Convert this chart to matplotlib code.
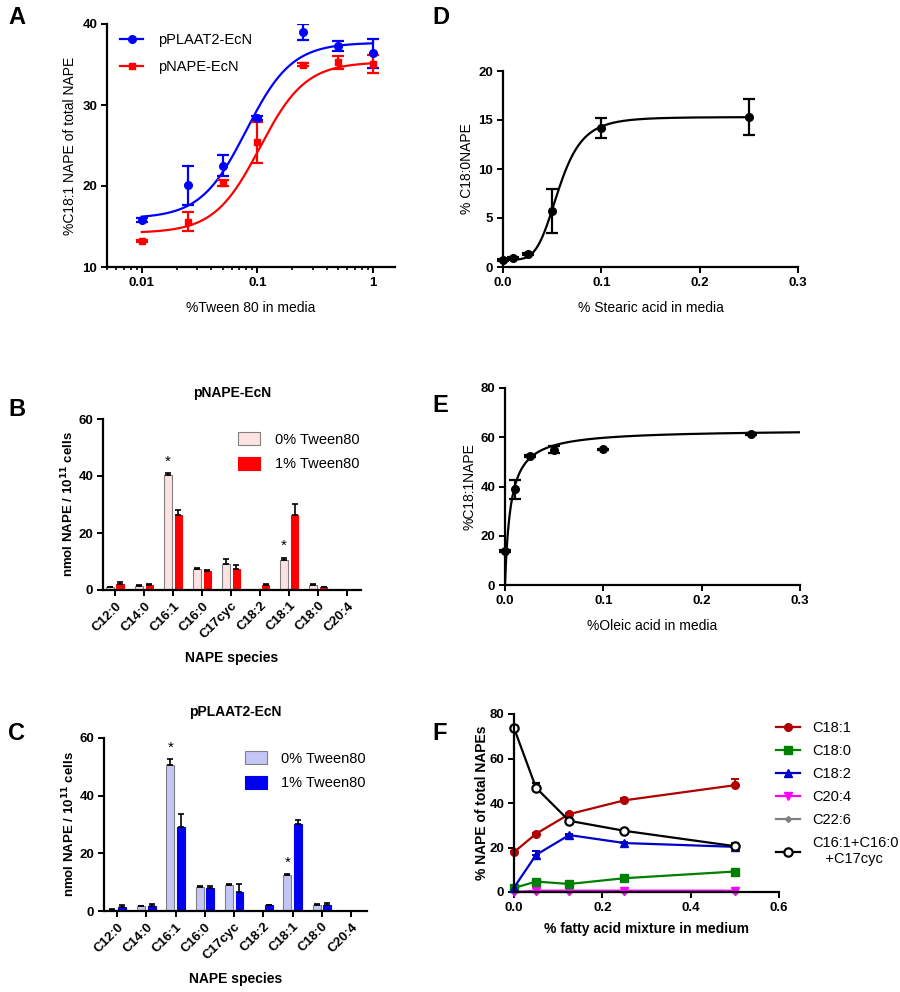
import numpy as np
import matplotlib
matplotlib.use("Agg")
import matplotlib.pyplot as plt
from matplotlib.patches import Patch
from matplotlib.lines import Line2D

plt.rcParams['font.family'] = ['Liberation Sans', 'DejaVu Sans']
plt.rcParams['font.weight'] = 'bold'
plt.rcParams['axes.linewidth'] = 1.6
plt.rcParams['xtick.major.width'] = 1.4
plt.rcParams['ytick.major.width'] = 1.4
plt.rcParams['xtick.minor.width'] = 1.2
plt.rcParams['xtick.major.size'] = 4
plt.rcParams['ytick.major.size'] = 4
plt.rcParams['xtick.minor.size'] = 2.5

# ---------------- Data ----------------
# Panel A
tween = [0.01, 0.025, 0.05, 0.1, 0.25, 0.5, 1.0]
plaat2_y = [15.8, 20.1, 22.5, 28.4, 39.0, 37.3, 36.4]
plaat2_err = [0.2, 2.4, 1.3, 0.3, 1.0, 0.6, 1.8]
nape_y = [13.2, 15.6, 20.4, 25.4, 35.0, 35.3, 35.1]
nape_err = [0.1, 1.2, 0.4, 2.5, 0.2, 0.8, 1.1]
plaat2_fit = dict(bottom=16.0, top=37.7, ec50=0.08, hill=2.2)
nape_fit = dict(bottom=14.2, top=35.3, ec50=0.105, hill=2.2)

# Panel D
stearic = [0.0, 0.01, 0.025, 0.05, 0.1, 0.25]
c180_y = [0.7, 0.95, 1.3, 5.7, 14.2, 15.3]
c180_err = [0.1, 0.1, 0.1, 2.25, 1.05, 1.85]
stearic_fit = dict(bottom=0.75, top=15.3, ec50=0.057, hill=4.7)

# Panel E
oleic = [0.0, 0.01, 0.025, 0.05, 0.1, 0.25]
c181_y = [13.8, 38.8, 52.4, 55.0, 55.1, 61.4]
c181_err = [0.3, 3.7, 0.5, 1.5, 0.3, 0.5]
oleic_fit = dict(bmax=63.2, kd=0.00573)

# Panels B, C
species = ['C12:0', 'C14:0', 'C16:1', 'C16:0', 'C17cyc', 'C18:2', 'C18:1', 'C18:0', 'C20:4']
b_0 = [0.9, 1.5, 40.2, 7.4, 9.1, 0.0, 10.6, 1.75, 0.0]
b_0_err = [0.2, 0.2, 1.0, 0.3, 1.8, 0.0, 0.8, 0.2, 0.0]
b_1 = [2.1, 1.75, 26.2, 6.5, 7.25, 1.75, 26.2, 0.9, 0.0]
b_1_err = [0.6, 0.3, 2.0, 0.5, 1.4, 0.3, 4.0, 0.2, 0.0]
c_0 = [0.5, 1.6, 50.5, 8.4, 8.9, 0.0, 12.6, 2.0, 0.0]
c_0_err = [0.1, 0.2, 2.3, 0.3, 0.3, 0.0, 0.3, 0.3, 0.0]
c_1 = [1.4, 1.6, 29.2, 8.0, 6.7, 2.0, 30.3, 2.0, 0.0]
c_1_err = [0.8, 0.8, 4.5, 0.8, 2.5, 0.2, 1.4, 0.9, 0.0]
star_idx = [2, 6]

# Panel F
famix = [0.0, 0.05, 0.125, 0.25, 0.5]
f_c181 = [17.9, 26.2, 35.0, 41.2, 48.0]
f_c181_err = [0.5, 0.5, 0.5, 1.2, 3.0]
f_c180 = [1.8, 4.7, 3.6, 6.2, 9.2]
f_c180_err = [0.2, 0.3, 0.3, 0.3, 0.5]
f_c182 = [2.0, 16.7, 25.6, 22.0, 20.3]
f_c182_err = [0.2, 1.9, 0.5, 0.5, 1.9]
f_c204 = [0.0, 0.6, 0.6, 0.6, 0.6]
f_c226 = [0.0, 0.0, 0.0, 0.0, 0.0]
f_sum = [73.7, 46.8, 32.0, 27.5, 20.6]
f_sum_err = [0.5, 2.1, 0.5, 0.5, 1.0]

W, H = 900, 992
fig = plt.figure(figsize=(9, 9.92), dpi=100)

TICK = 9.5
LAB = 10


def add_ax(l, r, t, b):
    return fig.add_axes([l / W, 1 - b / H, (r - l) / W, (b - t) / H])


def style(ax):
    ax.spines['top'].set_visible(False)
    ax.spines['right'].set_visible(False)
    ax.tick_params(labelsize=TICK, pad=3)
    for lab in ax.get_xticklabels() + ax.get_yticklabels():
        lab.set_fontweight('bold')


def hill_log(x, p):
    x = np.asarray(x)
    return p['bottom'] + (p['top'] - p['bottom']) / (1 + (p['ec50'] / x) ** p['hill'])


ebkw = dict(capsize=4, elinewidth=1.6, capthick=1.6)

# ---------------- Panel A ----------------
axA = add_ax(107, 395, 24, 267)
xs = np.logspace(-2, 0, 300)
axA.plot(xs, hill_log(xs, plaat2_fit), color='#0000ff', lw=1.6)
axA.plot(xs, hill_log(xs, nape_fit), color='#ff0000', lw=1.6)
axA.errorbar(tween, plaat2_y, yerr=plaat2_err, fmt='o', color='#0000ff', ms=5.5, **ebkw)
axA.errorbar(tween, nape_y, yerr=nape_err, fmt='s', color='#ff0000', ms=5, **ebkw)
axA.set_xscale('log')
axA.set_xlim(0.005, 1.55)
axA.set_ylim(10, 40)
axA.set_yticks([10, 20, 30, 40])
axA.set_xticks([0.01, 0.1, 1])
axA.set_xticklabels(['0.01', '0.1', '1'])
axA.set_xlabel('%Tween 80 in media', fontsize=LAB, fontweight='normal', labelpad=9)
axA.set_ylabel('%C18:1 NAPE of total NAPE', fontsize=LAB, fontweight='normal', labelpad=4)
style(axA)
hA = [Line2D([], [], color='#0000ff', marker='o', lw=1.6, ms=5.5),
      Line2D([], [], color='#ff0000', marker='s', lw=1.6, ms=5)]
axA.legend(hA, ['pPLAAT2-EcN', 'pNAPE-EcN'], loc='upper left', frameon=False,
           bbox_to_anchor=(0.0, 1.015), handlelength=1.6, labelspacing=0.85, handletextpad=1.0,
           prop={'weight': 'normal', 'size': 10.5})

# ---------------- Panel D ----------------
axD = add_ax(503, 798, 71, 267)
xs = np.linspace(0.0, 0.25, 300)
axD.plot(xs, stearic_fit['bottom'] + (stearic_fit['top'] - stearic_fit['bottom']) *
         xs ** stearic_fit['hill'] / (stearic_fit['ec50'] ** stearic_fit['hill'] + xs ** stearic_fit['hill']),
         color='black', lw=1.6)
axD.errorbar(stearic, c180_y, yerr=c180_err, fmt='o', color='black', ms=5.5,
             clip_on=False, **ebkw)
axD.set_xlim(0, 0.3)
axD.set_ylim(0, 20)
axD.set_xticks([0.0, 0.1, 0.2, 0.3])
axD.set_yticks([0, 5, 10, 15, 20])
axD.set_xlabel('% Stearic acid in media', fontsize=LAB, fontweight='normal', labelpad=9)
axD.set_ylabel('% C18:0NAPE', fontsize=LAB, labelpad=3)
style(axD)

# ---------------- Panel E ----------------
axE = add_ax(505, 800, 388, 585)
xs = np.linspace(0.0, 0.3, 400)
axE.plot(xs, oleic_fit['bmax'] * xs / (oleic_fit['kd'] + xs), color='black', lw=1.6)
axE.errorbar(oleic, c181_y, yerr=c181_err, fmt='o', color='black', ms=5.5,
             clip_on=False, **ebkw)
axE.set_xlim(0, 0.3)
axE.set_ylim(0, 80)
axE.set_xticks([0.0, 0.1, 0.2, 0.3])
axE.set_yticks([0, 20, 40, 60, 80])
axE.set_xlabel('%Oleic acid in media', fontsize=LAB, fontweight='normal', labelpad=9)
axE.set_ylabel('%C18:1NAPE', fontsize=LAB, labelpad=3)
style(axE)


# ---------------- Panels B and C ----------------
def bar_panel(ax, v0, e0, v1, e1, light, dark, title, xlim):
    x = np.arange(len(species))
    off, w = 0.18, 0.27
    ax.bar(x - off, v0, w, color=light, edgecolor='#808080', lw=0.8, zorder=2)
    ax.bar(x + off, v1, w, color=dark, edgecolor=dark, lw=0.8, zorder=2)
    ax.errorbar(x - off, v0, yerr=[np.zeros(len(e0)), e0], fmt='none', ecolor='black',
                capsize=2, elinewidth=1.2, capthick=1.2, zorder=3)
    ax.errorbar(x + off, v1, yerr=[np.zeros(len(e1)), e1], fmt='none', ecolor='black',
                capsize=2, elinewidth=1.2, capthick=1.2, zorder=3)
    for i in star_idx:
        ax.text(x[i] - off, v0[i] + e0[i] + 1.5, '*', ha='center', va='bottom',
                fontsize=11, fontweight='normal')
    ax.set_xlim(*xlim)
    ax.set_ylim(0, 60)
    ax.set_yticks([0, 20, 40, 60])
    ax.set_xticks(x)
    ax.set_xticklabels(species, rotation=45, ha='right', rotation_mode='anchor')
    ax.set_xlabel('NAPE species', fontsize=LAB, fontweight='bold', labelpad=7)
    ax.set_ylabel('nmol NAPE / 10$^{\\mathbf{11}}$ cells', fontsize=9.5, fontweight='bold',
                  labelpad=1.5)
    ax.set_title(title, fontsize=10, fontweight='bold', pad=16)
    style(ax)
    hh = [Patch(facecolor=light, edgecolor='#808080', lw=0.8),
          Patch(facecolor=dark, edgecolor=dark, lw=0.8)]
    ax.legend(hh, ['0% Tween80', '1% Tween80'], loc='upper right', frameon=False,
              bbox_to_anchor=(1.045, 1.0), prop={'weight': 'normal', 'size': 10.5},
              handlelength=1.5, handleheight=1.0, labelspacing=0.7, handletextpad=1.0)


axB = add_ax(103, 361, 419, 590)
bar_panel(axB, b_0, b_0_err, b_1, b_1_err, '#fde2e2', '#ff0000', 'pNAPE-EcN', (-0.42, 8.47))
axC = add_ax(104, 367, 738, 911)
bar_panel(axC, c_0, c_0_err, c_1, c_1_err, '#c4c6f6', '#0000ee', 'pPLAAT2-EcN', (-0.45, 8.54))

# ---------------- Panel F ----------------
axF = add_ax(514, 779, 714, 892)
kw = dict(capsize=3, elinewidth=1.4, capthick=1.4, lw=1.6, clip_on=False)
z = np.zeros(5)
axF.errorbar(famix, f_c181, yerr=[z, f_c181_err], color='#b00000', marker='o', ms=5.5, **kw)
axF.errorbar(famix, f_c180, yerr=[z, f_c180_err], color='#008000', marker='s', ms=5.5, **kw)
axF.errorbar(famix, f_c182, yerr=[z, f_c182_err], color='#0000cc', marker='^', ms=5.5, **kw)
axF.plot(famix, f_c226, color='#808080', marker='D', ms=3, lw=1.6, clip_on=False)
axF.plot(famix, f_c204, color='#ff00ff', marker='v', ms=5.5, lw=1.6, clip_on=False)
axF.errorbar(famix, f_sum, yerr=[z, f_sum_err], color='black', marker='o', ms=6,
             mfc='white', mew=1.6, **kw)
axF.set_xlim(0, 0.6)
axF.set_ylim(0, 80)
axF.set_xticks([0.0, 0.2, 0.4, 0.6])
axF.set_yticks([0, 20, 40, 60, 80])
axF.set_xlabel('% fatty acid mixture in medium', fontsize=LAB, fontweight='bold', labelpad=6)
axF.set_ylabel('% NAPE of total NAPEs', fontsize=LAB, fontweight='bold', labelpad=0)
style(axF)
hF = [Line2D([], [], color='#b00000', marker='o', ms=5.5, lw=1.6),
      Line2D([], [], color='#008000', marker='s', ms=5.5, lw=1.6),
      Line2D([], [], color='#0000cc', marker='^', ms=5.5, lw=1.6),
      Line2D([], [], color='#ff00ff', marker='v', ms=5.5, lw=1.6),
      Line2D([], [], color='#808080', marker='D', ms=3, lw=1.6),
      Line2D([], [], color='black', marker='o', ms=6, mfc='white', mew=1.6, lw=1.6)]
axF.legend(hF, ['C18:1', 'C18:0', 'C18:2', 'C20:4', 'C22:6', 'C16:1+C16:0\n   +C17cyc'],
           loc='upper left', bbox_to_anchor=(0.94, 1.035), frameon=False,
           prop={'weight': 'normal', 'size': 10.5}, handlelength=1.6, labelspacing=0.62,
           handletextpad=0.9)

# ---------------- Panel letters ----------------
for lab, x, y in [('A', 8, 18), ('D', 432, 18), ('B', 8, 410), ('E', 432, 405),
                  ('C', 8, 733), ('F', 432, 733)]:
    fig.text(x / W, 1 - y / H, lab, fontsize=17, fontweight='bold', va='center', ha='left')

fig.savefig('out.png', dpi=100)
